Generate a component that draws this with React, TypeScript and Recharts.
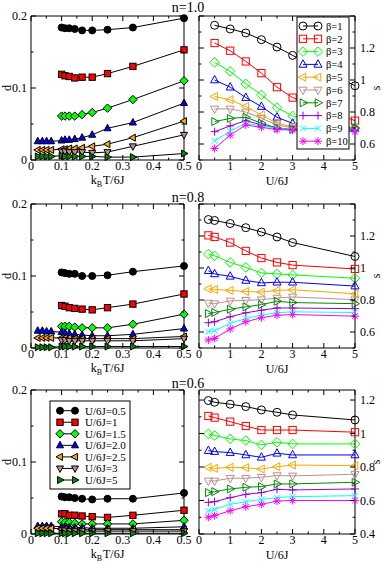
import { LineChart, Line, XAxis, YAxis } from "recharts";

const FONT = '"Liberation Serif", "Times New Roman", serif';

// d vs k_B T/6J : temperatures (beta = 10 ... 2)
const tempX = [0.1, 0.111, 0.125, 0.143, 0.167, 0.2, 0.25, 0.333, 0.5];
// extra low temperature points (only some U values have them)
const lowTempX = [0.022, 0.037, 0.051, 0.066];

const uLabels = ["U/6J=0.5", "U/6J=1", "U/6J=1.5", "U/6J=2.0", "U/6J=2.5", "U/6J=3", "U/6J=5"];
const uColors = ["#000000", "#ff0000", "#00ff00", "#0000ff", "#ffa500", "#bc8f8f", "#008b00"];
const uShapes = ["circle", "square", "diamond", "up", "left", "down", "right"];

const dN10 = [
  [0.184, 0.183, 0.183, 0.182, 0.18, 0.18, 0.181, 0.184, 0.197],
  [0.119, 0.117, 0.116, 0.114, 0.115, 0.115, 0.12, 0.13, 0.153],
  [0.061, 0.061, 0.061, 0.061, 0.063, 0.066, 0.072, 0.084, 0.11],
  [0.027, 0.028, 0.028, 0.029, 0.031, 0.035, 0.044, 0.052, 0.079],
  [0.015, 0.015, 0.016, 0.016, 0.017, 0.019, 0.022, 0.031, 0.054],
  [0.012, 0.012, 0.011, 0.011, 0.011, 0.01, 0.011, 0.019, 0.035],
  [0.006, 0.005, 0.005, 0.005, 0.005, 0.005, 0.004, 0.004, 0.009],
];
const dN10Low = [null, null, null, [0.026, 0.026, 0.026, 0.026], [0.014, 0.014, 0.014, 0.014], null, [0.005, 0.005, 0.005, 0.005]];

const dN08 = [
  [0.105, 0.104, 0.103, 0.103, 0.1, 0.1, 0.101, 0.106, 0.114],
  [0.059, 0.058, 0.056, 0.055, 0.054, 0.053, 0.056, 0.061, 0.075],
  [0.03, 0.03, 0.03, 0.029, 0.028, 0.028, 0.028, 0.033, 0.047],
  [0.022, 0.021, 0.02, 0.019, 0.018, 0.017, 0.017, 0.019, 0.027],
  [0.014, 0.014, 0.014, 0.013, 0.013, 0.013, 0.013, 0.013, 0.016],
  [0.011, 0.011, 0.01, 0.01, 0.01, 0.01, 0.01, 0.01, 0.013],
  [0.002, 0.002, 0.002, 0.002, 0.002, 0.002, 0.002, 0.002, 0.002],
];
const dN08Low = [null, null, null, [0.024, 0.024, 0.023, 0.023], [0.014, 0.014, 0.014, 0.014], null, [0.001, 0.001, 0.001, 0.001]];

const dN06 = [
  [0.052, 0.051, 0.051, 0.05, 0.049, 0.048, 0.049, 0.049, 0.057],
  [0.028, 0.028, 0.026, 0.026, 0.025, 0.024, 0.023, 0.026, 0.033],
  [0.017, 0.016, 0.016, 0.015, 0.014, 0.014, 0.014, 0.014, 0.019],
  [0.01, 0.01, 0.009, 0.009, 0.009, 0.008, 0.008, 0.008, 0.01],
  [0.007, 0.007, 0.006, 0.006, 0.006, 0.006, 0.006, 0.006, 0.006],
  [0.005, 0.005, 0.004, 0.004, 0.004, 0.004, 0.004, 0.004, 0.004],
  [0.001, 0.001, 0.001, 0.001, 0.001, 0.001, 0.001, 0.001, 0.001],
];
const dN06Low = [null, null, null, [0.011, 0.011, 0.011, 0.011], [0.008, 0.008, 0.008, 0.008], null, [0.001, 0.001, 0.001, 0.001]];

// s vs U/6J
const betaLabels = ["β=1", "β=2", "β=3", "β=4", "β=5", "β=6", "β=7", "β=8", "β=9", "β=10"];
const betaColors = ["#000000", "#ff0000", "#00ff00", "#0000ff", "#ffa500", "#bc8f8f", "#008b00", "#9400d3", "#00ffff", "#ff00ff"];
const betaShapes = ["circle", "square", "diamond", "up", "left", "down", "right", "plus", "cross", "star"];

const uX10 = [0.5, 1, 1.5, 2, 2.5, 3, 5];
const uX = [0.3, 0.5, 1, 1.5, 2, 2.5, 3, 5];

const sN10 = [
  [1.342, 1.319, 1.294, 1.252, 1.206, 1.154, 0.964],
  [1.231, 1.183, 1.116, 1.043, 0.955, 0.89, 0.746],
  [1.11, 1.054, 0.976, 0.907, 0.828, 0.775, 0.698],
  [1.0, 0.955, 0.89, 0.834, 0.767, 0.729, 0.698],
  [0.897, 0.876, 0.834, 0.782, 0.729, 0.708, 0.7],
  [0.819, 0.819, 0.8, 0.76, 0.72, 0.7, 0.69],
  [0.74, 0.76, 0.767, 0.73, 0.7, 0.69, 0.7],
  [0.677, 0.713, 0.746, 0.72, 0.698, 0.69, 0.687],
  [0.62, 0.68, 0.729, 0.713, 0.7, 0.687, 0.683],
  [0.572, 0.656, 0.719, 0.704, 0.69, 0.687, 0.677],
];

const sN08 = [
  [1.303, 1.297, 1.278, 1.252, 1.225, 1.194, 1.159, 1.072],
  [1.204, 1.194, 1.159, 1.107, 1.062, 1.035, 1.018, 0.994],
  [1.087, 1.076, 1.035, 1.004, 0.969, 0.963, 0.957, 0.936],
  [0.983, 0.963, 0.948, 0.922, 0.907, 0.911, 0.911, 0.887],
  [0.87, 0.866, 0.86, 0.853, 0.849, 0.86, 0.864, 0.839],
  [0.781, 0.777, 0.794, 0.798, 0.802, 0.812, 0.819, 0.802],
  [0.715, 0.722, 0.742, 0.757, 0.771, 0.792, 0.784, 0.777],
  [0.658, 0.664, 0.695, 0.72, 0.736, 0.75, 0.75, 0.746],
  [0.602, 0.608, 0.654, 0.684, 0.705, 0.72, 0.726, 0.722],
  [0.55, 0.56, 0.619, 0.664, 0.689, 0.705, 0.709, 0.699],
];

const sN06 = [
  [1.197, 1.187, 1.175, 1.161, 1.141, 1.127, 1.111, 1.081],
  [1.105, 1.095, 1.071, 1.045, 1.021, 1.021, 1.021, 1.008],
  [0.998, 0.988, 0.968, 0.958, 0.932, 0.948, 0.938, 0.938],
  [0.898, 0.892, 0.886, 0.872, 0.858, 0.882, 0.872, 0.872],
  [0.798, 0.792, 0.798, 0.796, 0.788, 0.802, 0.812, 0.808],
  [0.717, 0.717, 0.733, 0.733, 0.739, 0.749, 0.747, 0.757],
  [0.647, 0.653, 0.669, 0.679, 0.683, 0.699, 0.699, 0.709],
  [0.589, 0.593, 0.617, 0.637, 0.647, 0.667, 0.663, 0.669],
  [0.539, 0.547, 0.577, 0.593, 0.607, 0.617, 0.623, 0.629],
  [0.5, 0.51, 0.539, 0.563, 0.577, 0.597, 0.6, 0.6],
];

// axis ticks
const dxTicks = [0, 0.05, 0.1, 0.15, 0.2, 0.25, 0.3, 0.35, 0.4, 0.45, 0.5];
const dxMajor = [0, 0.1, 0.2, 0.3, 0.4, 0.5];
const dyTicks = [0, 0.05, 0.1, 0.15, 0.2];
const dyMajor = [0, 0.1, 0.2];
const uTicks = [0, 0.5, 1, 1.5, 2, 2.5, 3, 3.5, 4, 4.5, 5];
const uMajor = [0, 1, 2, 3, 4, 5];
const sTicks = [0.5, 0.6, 0.7, 0.8, 0.9, 1, 1.1, 1.2, 1.3, 1.4];
const sMajor = [0.6, 0.8, 1, 1.2, 1.4];
const sLabels = [0.6, 0.8, 1, 1.2];
const sTicks06 = [0.4, 0.5, 0.6, 0.7, 0.8, 0.9, 1, 1.1, 1.2];
const sMajor06 = [0.4, 0.6, 0.8, 1, 1.2];

const titles = ["n=1.0", "n=0.8", "n=0.6"];
const rowTops = [16, 204, 390];
const PH = 144;
const LEFT_X = 31, LEFT_W = 153;
const RIGHT_X = 199, RIGHT_W = 156;

type Pt = { x: number; y: number };
type Series = { pts: Pt[]; color: string; shape: string; filled: boolean; size: number };

function Marker({ shape, cx, cy, s, color, filled }: { shape: string; cx: number; cy: number; s: number; color: string; filled: boolean }) {
  const fill = filled ? color : "none";
  const stroke = filled ? "#000" : color;
  const c = { fill, stroke, strokeWidth: 1 };
  const poly = (pts: number[][]) => pts.map((p) => `${p[0]},${p[1]}`).join(" ");
  switch (shape) {
    case "circle":
      return <circle cx={cx} cy={cy} r={s} {...c} />;
    case "square":
      return <rect x={cx - s * 0.9} y={cy - s * 0.9} width={s * 1.8} height={s * 1.8} {...c} />;
    case "diamond":
      return <polygon points={poly([[cx, cy - s * 1.2], [cx + s * 1.2, cy], [cx, cy + s * 1.2], [cx - s * 1.2, cy]])} {...c} />;
    case "up":
      return <polygon points={poly([[cx, cy - s * 1.15], [cx + s, cy + s * 0.7], [cx - s, cy + s * 0.7]])} {...c} />;
    case "down":
      return <polygon points={poly([[cx, cy + s * 1.15], [cx + s, cy - s * 0.7], [cx - s, cy - s * 0.7]])} {...c} />;
    case "left":
      return <polygon points={poly([[cx - s * 1.15, cy], [cx + s * 0.7, cy - s], [cx + s * 0.7, cy + s]])} {...c} />;
    case "right":
      return <polygon points={poly([[cx + s * 1.15, cy], [cx - s * 0.7, cy - s], [cx - s * 0.7, cy + s]])} {...c} />;
    case "plus":
      return <path d={`M${cx - s},${cy}H${cx + s}M${cx},${cy - s}V${cy + s}`} stroke={color} fill="none" />;
    case "cross": {
      const d = s * 0.75;
      return <path d={`M${cx - d},${cy - d}L${cx + d},${cy + d}M${cx - d},${cy + d}L${cx + d},${cy - d}`} stroke={color} fill="none" />;
    }
    default: {
      const d = s * 0.7;
      return (
        <path
          d={`M${cx - s},${cy}H${cx + s}M${cx},${cy - s}V${cy + s}M${cx - d},${cy - d}L${cx + d},${cy + d}M${cx - d},${cy + d}L${cx + d},${cy - d}`}
          stroke={color}
          fill="none"
        />
      );
    }
  }
}

const M = 3; // tickMargin used to recover the axis position in custom ticks

function makeTick(side: string, major: number[], labels: number[]) {
  return (p: any) => {
    const v = p.payload.value;
    const near = (a: number[]) => a.some((m) => Math.abs(m - v) < 1e-6);
    const len = near(major) ? 5 : 2.5;
    const show = near(labels);
    const t = { fontSize: 12, fontFamily: FONT, fill: "#000" };
    if (side === "bottom") {
      const ay = p.y - M;
      return (
        <g>
          <line x1={p.x} x2={p.x} y1={ay} y2={ay - len} stroke="#000" />
          {show && <text x={p.x} y={ay + 10} textAnchor="middle" {...t}>{v}</text>}
        </g>
      );
    }
    if (side === "top") {
      const ay = p.y + M;
      return <line x1={p.x} x2={p.x} y1={ay} y2={ay + len} stroke="#000" />;
    }
    if (side === "left") {
      const ax = p.x + M;
      return (
        <g>
          <line x1={ax} x2={ax + len} y1={p.y} y2={p.y} stroke="#000" />
          {show && <text x={ax - 4} y={p.y + 4} textAnchor="end" {...t}>{v}</text>}
        </g>
      );
    }
    const ax = p.x - M;
    return (
      <g>
        <line x1={ax} x2={ax - len} y1={p.y} y2={p.y} stroke="#000" />
        {show && <text x={ax + 5} y={p.y + 4} textAnchor="start" {...t}>{v}</text>}
      </g>
    );
  };
}

function Panel(props: {
  left: number; top: number; width: number; height: number;
  xDomain: number[]; yDomain: number[];
  xTicks: number[]; xMajor: number[];
  yTicks: number[]; yMajor: number[];
  yLabelsLeft: number[]; yLabelsRight: number[];
  series: Series[]; lineColor?: string;
}) {
  const ML = 40, MR = 40, MT = 10, MB = 30;
  const { left, top, width, height } = props;
  return (
    <div style={{ position: "absolute", left: left - ML, top: top - MT }}>
      <LineChart
        width={width + ML + MR}
        height={height + MT + MB}
        margin={{ top: MT - 1, right: MR - 20, bottom: MB - 20, left: ML - 20 }}
      >
        <XAxis xAxisId={0} type="number" dataKey="x" domain={props.xDomain} ticks={props.xTicks} interval={0}
          height={20} tickSize={0} tickMargin={M} tickLine={false} stroke="#000"
          tick={makeTick("bottom", props.xMajor, props.xMajor)} />
        <XAxis xAxisId="t" orientation="top" type="number" dataKey="x" domain={props.xDomain} allowDataOverflow
          ticks={props.xTicks} interval={0} height={1} tickSize={0} tickMargin={M} tickLine={false} stroke="#000"
          tick={makeTick("top", props.xMajor, [])} />
        <YAxis yAxisId={0} type="number" domain={props.yDomain} ticks={props.yTicks} interval={0}
          width={20} tickSize={0} tickMargin={M} tickLine={false} stroke="#000"
          tick={makeTick("left", props.yMajor, props.yLabelsLeft)} />
        <YAxis yAxisId="r" orientation="right" type="number" domain={props.yDomain} allowDataOverflow
          ticks={props.yTicks} interval={0} width={20} tickSize={0} tickMargin={M} tickLine={false} stroke="#000"
          tick={makeTick("right", props.yMajor, props.yLabelsRight)} />
        {props.series.map((s, i) => (
          <Line
            key={i}
            data={s.pts}
            dataKey="y"
            xAxisId={0}
            yAxisId={0}
            type="linear"
            stroke={props.lineColor || s.color}
            strokeWidth={1}
            isAnimationActive={false}
            activeDot={false}
            dot={(d: any) => (
              <Marker key={`m-${i}-${d.index}`} shape={s.shape} cx={d.cx} cy={d.cy} s={s.size} color={s.color} filled={s.filled} />
            )}
          />
        ))}
      </LineChart>
    </div>
  );
}

function dSeries(main: number[][], low: (number[] | null)[]): Series[] {
  return main.map((vals, i) => {
    const lo = low[i];
    const pts: Pt[] = [
      ...(lo ? lowTempX.map((x, j) => ({ x, y: lo[j] })) : []),
      ...tempX.map((x, j) => ({ x, y: vals[j] })),
    ];
    return { pts, color: uColors[i], shape: uShapes[i], filled: true, size: 3.5 };
  });
}

function sSeries(xs: number[], main: number[][]): Series[] {
  return main.map((vals, i) => ({
    pts: xs.map((x, j) => ({ x, y: vals[j] })),
    color: betaColors[i],
    shape: betaShapes[i],
    filled: false,
    size: 4,
  }));
}

const dData = [dSeries(dN10, dN10Low), dSeries(dN08, dN08Low), dSeries(dN06, dN06Low)];
const sData = [sSeries(uX10, sN10), sSeries(uX, sN08), sSeries(uX, sN06)];

function Overlay() {
  const t = { fontFamily: FONT, fill: "#000" };
  return (
    <svg width={382} height={564} style={{ position: "absolute", left: 0, top: 0, pointerEvents: "none" }}>
      {rowTops.map((top, r) => (
        <g key={r}>
          <text x={188} y={top - (r === 0 ? 4.5 : 2.5)} textAnchor="middle" fontSize={14} {...t}>{titles[r]}</text>
          <text x={LEFT_X + LEFT_W / 2} y={top + PH + 24} textAnchor="middle" fontSize={12} {...t}>
            k<tspan fontSize={8} dy={3}>B</tspan><tspan dy={-3} dx={1}>T/6J</tspan>
          </text>
          <text x={RIGHT_X + RIGHT_W / 2} y={top + PH + 24.5} textAnchor="middle" fontSize={12} {...t}>U/6J</text>
          <text x={11} y={top + PH / 2} textAnchor="middle" fontSize={12} transform={`rotate(-90 11 ${top + PH / 2})`} {...t}>d</text>
          <text x={380} y={top + PH / 2} textAnchor="middle" fontSize={12} transform={`rotate(-90 380 ${top + PH / 2})`} {...t}>s</text>
        </g>
      ))}
      {/* beta legend, top right panel */}
      <rect x={297} y={17} width={52} height={132} fill="#fff" stroke="#000" />
      {betaLabels.map((lab, i) => {
        const y = 26 + i * 12.8;
        return (
          <g key={lab}>
            <line x1={303} x2={318} y1={y} y2={y} stroke={betaColors[i]} />
            <Marker shape={betaShapes[i]} cx={303} cy={y} s={4} color={betaColors[i]} filled={false} />
            <Marker shape={betaShapes[i]} cx={318} cy={y} s={4} color={betaColors[i]} filled={false} />
            <text x={326} y={y + 3.8} fontSize={10.5} {...t}>{lab}</text>
          </g>
        );
      })}
      {/* U legend, bottom left panel */}
      <rect x={50} y={401} width={80} height={88} fill="#fff" stroke="#000" />
      {uLabels.map((lab, i) => {
        const y = 410.7 + i * 11.55;
        return (
          <g key={lab}>
            <line x1={60} x2={75} y1={y} y2={y} stroke="#000" />
            <Marker shape={uShapes[i]} cx={60} cy={y} s={3.5} color={uColors[i]} filled />
            <Marker shape={uShapes[i]} cx={75} cy={y} s={3.5} color={uColors[i]} filled />
            <text x={85} y={y + 4} fontSize={11} {...t}>{lab}</text>
          </g>
        );
      })}
    </svg>
  );
}

export default function App() {
  return (
    <div style={{ position: "absolute", left: 0, top: 0, width: 382, height: 564, background: "#fff", fontFamily: FONT }}>
      {rowTops.map((top, r) => (
        <Panel
          key={`d${r}`}
          left={LEFT_X}
          top={top}
          width={LEFT_W}
          height={PH}
          xDomain={[0, 0.5]}
          yDomain={[0, 0.2]}
          xTicks={dxTicks}
          xMajor={dxMajor}
          yTicks={dyTicks}
          yMajor={dyMajor}
          yLabelsLeft={dyMajor}
          yLabelsRight={[]}
          series={dData[r]}
          lineColor="#000"
        />
      ))}
      {rowTops.map((top, r) => (
        <Panel
          key={`s${r}`}
          left={RIGHT_X}
          top={top}
          width={RIGHT_W}
          height={PH}
          xDomain={[0, 5]}
          yDomain={r === 2 ? [0.4, 1.26] : [0.5, 1.4]}
          xTicks={uTicks}
          xMajor={uMajor}
          yTicks={r === 2 ? sTicks06 : sTicks}
          yMajor={r === 2 ? sMajor06 : sMajor}
          yLabelsLeft={[]}
          yLabelsRight={r === 2 ? sMajor06 : sLabels}
          series={sData[r]}
        />
      ))}
      <Overlay />
    </div>
  );
}
